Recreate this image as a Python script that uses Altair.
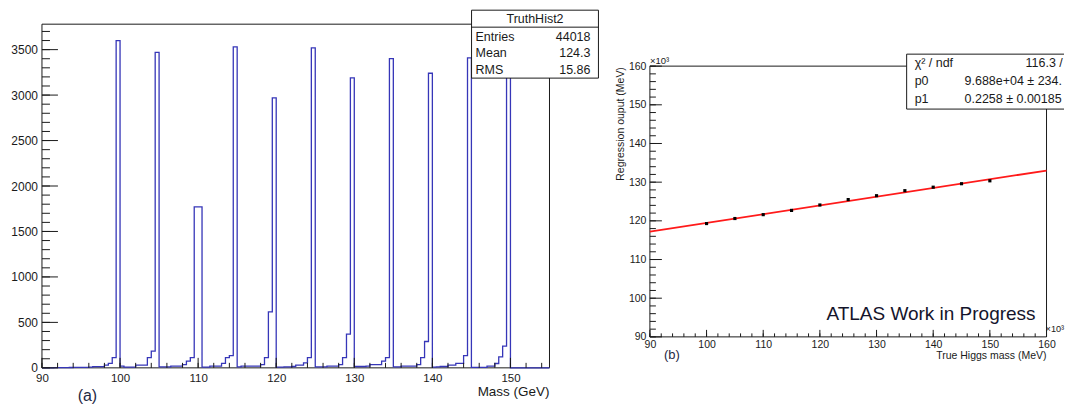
import altair as alt
import pandas as pd

FONT = "Liberation Sans"
INK = "#1a1a1a"
HIST_BLUE = "#3636b8"

# ---------------- (a) truth-mass histogram ----------------
hist_lo = 90.0
hist_bin = 0.5
hist_counts = [
    0, 0, 0, 2, 2, 3, 3, 4, 5, 5,            # 90.0 - 94.5
    6, 6, 8, 13, 13, 13, 31, 50, 112, 3600,  # 95.0 - 99.5
    20, 8, 8, 8, 30, 30, 30, 112, 185, 3470,  # 100 - 104.5
    10, 10, 10, 20, 20, 20, 35, 75, 112, 1770,  # 105 - 109.5
    1770, 8, 8, 20, 20, 20, 50, 112, 134, 3530,  # 110 - 114.5
    10, 20, 20, 20, 20, 20, 35, 112, 615, 2970,  # 115 - 119.5
    8, 8, 10, 10, 15, 30, 30, 55, 112, 3520,  # 120 - 124.5
    10, 10, 10, 20, 20, 20, 35, 112, 370, 3190,  # 125 - 129.5
    15, 15, 15, 20, 35, 35, 35, 75, 112, 3400,  # 130 - 134.5
    10, 10, 20, 20, 20, 20, 35, 112, 290, 3240,  # 135 - 139.5
    8, 10, 15, 15, 30, 30, 50, 50, 134, 3410,  # 140 - 144.5
    5, 5, 5, 5, 20, 20, 48, 120, 240, 3450,  # 145 - 149.5
    0, 0, 0, 0, 0, 0, 0, 0, 0, 0,  # 150 - 154.5
]
hist_edges = [hist_lo + hist_bin * i for i in range(len(hist_counts) + 1)]
hist_heights = hist_counts + [hist_counts[-1]]

left_x_labels = [90, 100, 110, 120, 130, 140, 150]
left_y_labels = [0, 500, 1000, 1500, 2000, 2500, 3000, 3500]
left_x_minor = list(range(90, 156, 2))
left_y_minor = list(range(0, 3781, 100))

stats_a_title = "TruthHist2"
stats_a_names = ["Entries", "Mean", "RMS"]
stats_a_values = ["44018", "124.3", "15.86"]

# ---------------- (b) regression output vs true mass ----------------
true_mass = [100, 105, 110, 115, 120, 125, 130, 135, 140, 145, 150]
reg_output = [119.3, 120.6, 121.6, 122.7, 124.1, 125.5, 126.5, 127.8, 128.7, 129.6, 130.35]
fit_p0 = 96.88     # x10^3 MeV
fit_p1 = 0.2258
fit_range = [90, 160]
fit_out = [fit_p0 + fit_p1 * m for m in fit_range]

right_labels = [90, 100, 110, 120, 130, 140, 150, 160]
right_minor = list(range(90, 161, 2))

stats_b_names = ["\u03c7\u00b2 / ndf", "p0", "p1"]
stats_b_values = ["116.3 / 9", "9.688e+04 \u00b1 234.6", "0.2258 \u00b1 0.001854"]

one = pd.DataFrame({"k": [0]})


def text(t, x, y, size, align="left", color=INK, angle=None, limit=None):
    kw = dict(text=t, align=align, baseline="middle", fontSize=size, font=FONT, color=color)
    if angle is not None:
        kw["angle"] = angle
    if limit is not None:
        kw["limit"] = limit
        kw["ellipsis"] = "\u200b"
    return alt.Chart(one).mark_text(**kw).encode(x=alt.value(x), y=alt.value(y))


def hline(x1, x2, y):
    return alt.Chart(one).mark_rule(color=INK, strokeWidth=1).encode(
        x=alt.value(x1), x2=alt.value(x2), y=alt.value(y))


def vline(x, y1, y2):
    return alt.Chart(one).mark_rule(color=INK, strokeWidth=1).encode(
        x=alt.value(x), y=alt.value(y1), y2=alt.value(y2))


def frame(x1, x2, y1, y2):
    return alt.Chart(one).mark_rect(filled=False, stroke=INK, strokeWidth=1).encode(
        x=alt.value(x1), x2=alt.value(x2), y=alt.value(y1), y2=alt.value(y2))


def anchor(x, y):
    # tiny white mark that fixes where the panel's bounding box starts
    return alt.Chart(one).mark_rule(color="white", strokeWidth=1).encode(
        x=alt.value(x), x2=alt.value(x), y=alt.value(y), y2=alt.value(y + 1))


def xticks(vals, scale, axis, h, length):
    return alt.Chart(pd.DataFrame({"t": vals})).mark_rule(color=INK, strokeWidth=1).encode(
        x=alt.X("t:Q", scale=scale, axis=axis), y=alt.value(h), y2=alt.value(h - length))


def yticks(vals, scale, axis, length):
    return alt.Chart(pd.DataFrame({"t": vals})).mark_rule(color=INK, strokeWidth=1).encode(
        y=alt.Y("t:Q", scale=scale, axis=axis), x=alt.value(0), x2=alt.value(length))


# ---------------- left panel ----------------
W1, H1 = 508, 344
xs1 = alt.Scale(domain=[90, 155], nice=False, zero=False)
ys1 = alt.Scale(domain=[0, 3780], nice=False)
ax_x1 = alt.Axis(values=left_x_labels, format="d", labelFontSize=11.5, labelPadding=4.5,
                 title=None, labelFlush=False, labelOverlap=False)
ax_y1 = alt.Axis(values=left_y_labels, format="d", labelFontSize=12, labelPadding=4.5,
                 title=None, labelOverlap=False)

hist = alt.Chart(pd.DataFrame({"mass": hist_edges, "count": hist_heights})).mark_line(
    interpolate="step-after", color=HIST_BLUE, strokeWidth=1.3
).encode(
    x=alt.X("mass:Q", scale=xs1, axis=ax_x1),
    y=alt.Y("count:Q", scale=ys1, axis=ax_y1),
)

bx1, bx2, by1, by2 = 430, 557, -14, 54
left_layers = [
    frame(0, W1, 0, H1),
    hist,
    xticks(left_x_minor, xs1, ax_x1, H1, 5),
    xticks(left_x_labels, xs1, ax_x1, H1, 10),
    yticks(left_y_minor, ys1, ax_y1, 8),
    yticks(left_y_labels, ys1, ax_y1, 16),
    alt.Chart(one).mark_rect(fill="white", stroke=INK, strokeWidth=1).encode(
        x=alt.value(bx1), x2=alt.value(bx2), y=alt.value(by1), y2=alt.value(by2)),
    hline(bx1, bx2, 3),
    text(stats_a_title, (bx1 + bx2) / 2, -5.5, 12.5, align="center"),
]
for i, (n, v) in enumerate(zip(stats_a_names, stats_a_values)):
    yy = 12.5 + 16.5 * i
    left_layers.append(text(n, bx1 + 4, yy, 12.5))
    left_layers.append(text(v, bx2 - 8, yy, 12.5, align="right"))
left_layers += [
    text("Mass (GeV)", W1, 368, 13.5, align="right"),
    text("(a)", 45.5, 372, 16, align="center", color="#1f2a44"),
    anchor(-33.5, -15.5),
]
left = alt.layer(*left_layers).properties(width=W1, height=H1)

# ---------------- right panel ----------------
# plot area sits 42 px lower than the left one: y range is offset inside a taller view
W2, TOP2, H2 = 397, 42, 313
xs2 = alt.Scale(domain=[90, 160], nice=False, zero=False)
ys2 = alt.Scale(domain=[90, 160], nice=False, zero=False, range=[H2, TOP2])
ax_x2 = alt.Axis(values=right_labels, format="d", labelFontSize=10.5, labelPadding=3,
                 title=None, labelFlush=False, labelOverlap=False)
ax_y2 = alt.Axis(values=right_labels, format="d", labelFontSize=10.5, labelPadding=4,
                 title=None, labelOverlap=False)

fit = alt.Chart(pd.DataFrame({"m": fit_range, "o": fit_out})).mark_line(
    color="#ff1a1a", strokeWidth=1.8
).encode(
    x=alt.X("m:Q", scale=xs2, axis=ax_x2),
    y=alt.Y("o:Q", scale=ys2, axis=ax_y2),
)
pts = alt.Chart(pd.DataFrame({"m": true_mass, "o": reg_output})).mark_square(
    size=10, color="black", opacity=1
).encode(x=alt.X("m:Q", scale=xs2, axis=ax_x2), y=alt.Y("o:Q", scale=ys2, axis=ax_y2))

# the page is 1073 px wide: the stat box is cut at the window edge (rel. x = 414.5)
cx1, cx2, cy1, cy2 = 257, 414.5, 30, 85
val_x = [376, 315, 315]
right_layers = [
    frame(0, W2, TOP2, H2),
    xticks(right_minor, xs2, ax_x2, H2, 3.5),
    xticks(right_labels, xs2, ax_x2, H2, 7),
    yticks(right_minor, ys2, ax_y2, 6),
    yticks(right_labels, ys2, ax_y2, 12),
    fit,
    pts,
    alt.Chart(one).mark_rect(fill="white").encode(
        x=alt.value(cx1), x2=alt.value(cx2), y=alt.value(cy1), y2=alt.value(cy2)),
    hline(cx1, cx2, cy1),
    hline(cx1, cx2, cy2),
    vline(cx1, cy1, cy2),
]
for i, (n, v) in enumerate(zip(stats_b_names, stats_b_values)):
    yy = 39 + 18 * i
    right_layers.append(text(n, cx1 + 8, yy, 12.5))
    right_layers.append(text(v, val_x[i], yy, 12.5, limit=cx2 - val_x[i]))
right_layers += [
    text("ATLAS Work in Progress", 386, 290, 19, align="right", color="#14142b"),
    text("True Higgs mass (MeV)", W2, 332, 10.5, align="right"),
    text("Regression ouput (MeV)", -29, TOP2 + 1, 10.5, align="right", angle=270),
    text("\u00d710\u00b3", 0, 37, 9.5),
    text("\u00d710\u00b3", 396, 305, 9.2),
    text("(b)", 22, 331, 13, align="center", color="#1f2a44"),
    anchor(-39.5, 0),
]
right = alt.layer(*right_layers).properties(width=W2, height=H2)

chart = alt.hconcat(left, right, spacing=10.5).properties(
    padding={"left": 0, "top": 0, "right": 0, "bottom": 0}
).configure_axis(
    ticks=False, domain=False, grid=False, labelFont=FONT, labelColor=INK, tickSize=0
).configure_view(strokeWidth=0, stroke="transparent")

chart.save("out.html", embed_options={"renderer": "svg", "actions": False})
